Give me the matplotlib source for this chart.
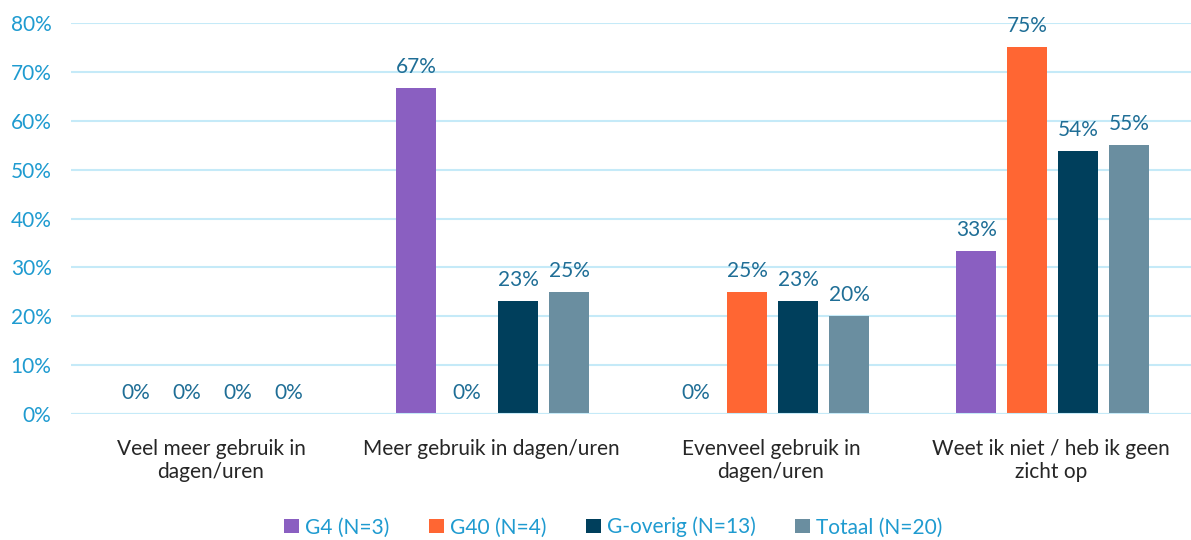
import matplotlib.pyplot as plt
import numpy as np

plt.rcParams['font.family'] = ['Lato', 'DejaVu Sans']

categories = ["Veel meer gebruik in\ndagen/uren", "Meer gebruik in dagen/uren",
              "Evenveel gebruik in\ndagen/uren", "Weet ik niet / heb ik geen\nzicht op"]
series = ["G4 (N=3)", "G40 (N=4)", "G-overig (N=13)", "Totaal (N=20)"]
g4 = [0, 66.7, 0, 33.3]
g40 = [0, 0, 25, 75]
g_overig = [0, 23.1, 23.1, 53.8]
totaal = [0, 25, 20, 55]
colors = ["#8A5FC1", "#FF6633", "#003F5C", "#6A8EA0"]

fig = plt.figure(figsize=(11.91, 5.4), dpi=100)
ax = fig.add_axes([0.0596, 0.2333, 0.9404, 0.7241])

x = np.arange(len(categories))
width = 0.143
step = 0.182
for i, (vals, name, c) in enumerate(zip([g4, g40, g_overig, totaal], series, colors)):
    pos = x + (i - 1.5) * step + 0.006
    bars = ax.bar(pos, vals, width, color=c, label=name, zorder=3)
    for p, v in zip(pos, vals):
        ax.text(p, v + 2.3, f"{v:.0f}%", ha="center", va="bottom",
                fontsize=15, color="#1F6E96")

ax.set_xlim(-0.5, 3.5)
ax.set_ylim(0, 80)
ax.set_yticks(range(0, 81, 10))
ax.set_yticklabels([f"{t}%" for t in range(0, 81, 10)], fontsize=15, color="#1F9BD0")
ax.set_xticks(x)
ax.set_xticklabels(categories, fontsize=15, color="#262626")
ax.tick_params(length=0, axis="both")
ax.tick_params(axis="x", pad=18)
ax.tick_params(axis="y", pad=14)
ax.grid(axis="y", color="#C5EAF8", linewidth=1.5, zorder=0)
for s in ax.spines.values():
    s.set_visible(False)
ax.axhline(0, color="#C5EAF8", linewidth=1.5, zorder=4)

leg = fig.legend(loc="lower center", ncol=4, frameon=False, fontsize=15,
                 bbox_to_anchor=(0.515, -0.03), handlelength=0.7, handleheight=0.7,
                 columnspacing=1.9, handletextpad=0.3)
for t in leg.get_texts():
    t.set_color("#1F9BD0")

fig.savefig("out.png", dpi=100)
